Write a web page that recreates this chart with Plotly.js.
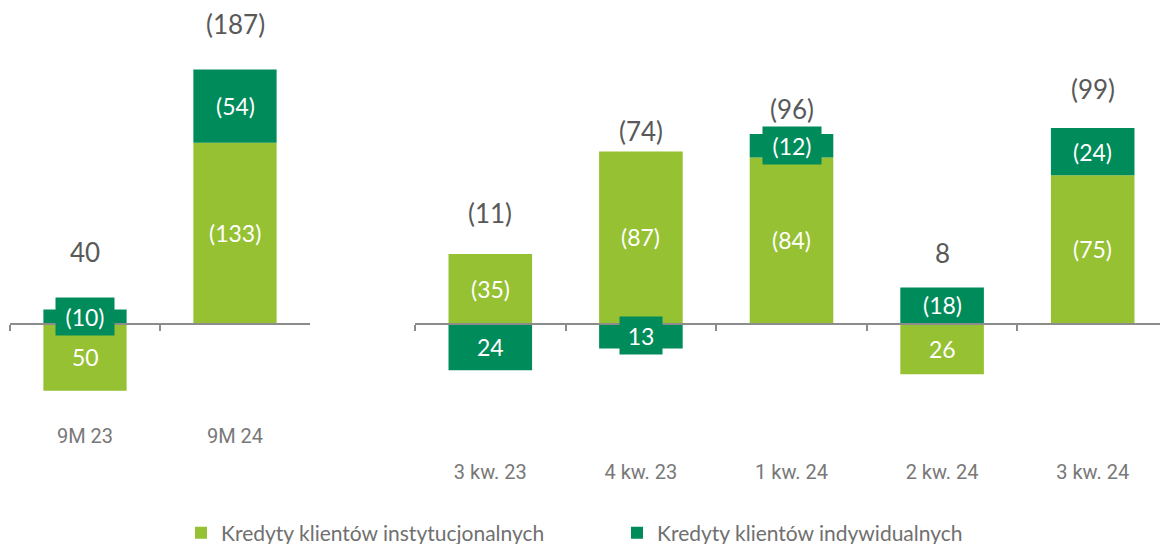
<!DOCTYPE html>
<html>
<head>
<meta charset="utf-8">
<script src="https://cdn.plot.ly/plotly-3.0.1.min.js"></script>
<style>
  html, body { margin: 0; padding: 0; background: #ffffff; }
  #chart { width: 1160px; height: 544px; }
</style>
</head>
<body>
<div id="chart"></div>
<script>
// Change in loan volumes (PLN m) split by client type.
// Positive values are drawn below the axis, negative ones (shown in brackets) above it.
const periodsYear = ['9M 23', '9M 24'];
const instYear = [50, -133];
const indivYear = [-10, -54];

const periodsQuarter = ['3 kw. 23', '4 kw. 23', '1 kw. 24', '2 kw. 24', '3 kw. 24'];
const instQuarter = [-35, -87, -84, 26, -75];
const indivQuarter = [24, 13, -12, -18, -24];

const seriesNames = ['Kredyty klientów instytucjonalnych', 'Kredyty klientów indywidualnych'];

// ---- styling ----
const W = 1160, H = 544;
const ZERO_PX = 323;                 // vertical pixel of the zero line
const SCALE_YEAR = 1.355;            // px per unit, year-to-date panel
const SCALE_QUARTER = 1.97;          // px per unit, quarterly panel
const CAT_STEP_QUARTER = 150.6;      // px per category, quarterly panel
const totalLiftYear = [57, 46];      // px gap between stack top and total label
const totalLiftQuarter = [41, 21, 25, 35, 39];

const LIGHT = '#95c133';
const DARK = '#008b5a';
const AXIS = '#8c8c8c';
const LABEL_FONT = 'Lato, "Open Sans", sans-serif';
const TICK_FONT = 'Roboto, "Open Sans", sans-serif';

const fmt = v => (v < 0 ? '(' + Math.abs(v) + ')' : String(v));

function yRange(scale) {
  // reversed axis: negative values go up
  return [(H - ZERO_PX) / scale, -ZERO_PX / scale];
}

function barTrace(x, y, color, name, xa, ya, showLegend) {
  return {
    type: 'bar', x: x, y: y, name: name, xaxis: xa, yaxis: ya,
    marker: { color: color, line: { width: 0 } },
    legendgroup: name, showlegend: showLegend,
    hoverinfo: 'skip'
  };
}

const traces = [
  barTrace(periodsYear, instYear, LIGHT, seriesNames[0], 'x', 'y', true),
  barTrace(periodsYear, indivYear, DARK, seriesNames[1], 'x', 'y', true),
  barTrace(periodsQuarter, instQuarter, LIGHT, seriesNames[0], 'x2', 'y2', false),
  barTrace(periodsQuarter, indivQuarter, DARK, seriesNames[1], 'x2', 'y2', false)
];

const annotations = [];

function addLabels(cats, inst, indiv, scale, lift, xa, ya) {
  cats.forEach((c, i) => {
    let pos = 0, neg = 0;
    [[inst[i], LIGHT], [indiv[i], DARK]].forEach(([v, segColor]) => {
      let base;
      if (v >= 0) { base = pos; pos += v; } else { base = neg; neg += v; }
      const center = base + v / 2;
      const txt = fmt(v);
      const small = Math.abs(v) * scale < 30;
      const a = {
        xref: xa, yref: ya, x: c, y: center, text: txt, showarrow: false,
        font: { family: LABEL_FONT, size: 23, color: '#ffffff' },
        xanchor: 'center', yanchor: 'middle'
      };
      if (small) {
        // label wider than its thin segment: give it a tab in the segment colour
        a.bgcolor = segColor;
        a.borderpad = 0;
        a.width = 26 + 8 * txt.length;
        a.height = 37;
      }
      annotations.push(a);
    });
    const total = inst[i] + indiv[i];
    annotations.push({
      xref: xa, yref: ya, x: c, y: neg, yshift: lift[i], text: fmt(total), showarrow: false,
      font: { family: LABEL_FONT, size: 26, color: '#595959' },
      xanchor: 'center', yanchor: 'middle'
    });
  });
}

addLabels(periodsYear, instYear, indivYear, SCALE_YEAR, totalLiftYear, 'x', 'y');
addLabels(periodsQuarter, instQuarter, indivQuarter, SCALE_QUARTER, totalLiftQuarter, 'x2', 'y2');

const axisLinePos = 1 - (ZERO_PX + 0.5) / H;
const baseX = {
  type: 'category', anchor: 'free', position: axisLinePos,
  showline: true, linecolor: AXIS, linewidth: 2,
  ticks: 'outside', tickson: 'boundaries', ticklen: 6, tickwidth: 2, tickcolor: AXIS,
  showticklabels: true, tickfont: { family: TICK_FONT, size: 20, color: '#787878' },
  showgrid: false, zeroline: false, fixedrange: true, automargin: false
};

const yearDomain = [10 / W, 310 / W];
const quarterDomain = [415 / W, 1];
const yearRange = [-0.5, periodsYear.length - 0.5];
const quarterRange = [-0.5, -0.5 + (quarterDomain[1] - quarterDomain[0]) * W / CAT_STEP_QUARTER];

const layout = {
  width: W, height: H,
  margin: { l: 0, r: 0, t: 0, b: 0, pad: 0, autoexpand: false },
  paper_bgcolor: '#ffffff', plot_bgcolor: 'rgba(0,0,0,0)',
  barmode: 'relative', bargap: 0.445,
  xaxis: Object.assign({}, baseX, { domain: yearDomain, range: yearRange, ticklabelstandoff: 94 }),
  yaxis: { domain: [0, 1], range: yRange(SCALE_YEAR), visible: false, fixedrange: true },
  xaxis2: Object.assign({}, baseX, { domain: quarterDomain, range: quarterRange, ticklabelstandoff: 130 }),
  yaxis2: { domain: [0, 1], range: yRange(SCALE_QUARTER), visible: false, fixedrange: true },
  showlegend: true,
  legend: {
    orientation: 'h', x: 181 / W, xanchor: 'left', y: 1 - 533 / H, yanchor: 'middle',
    font: { family: LABEL_FONT, size: 21, color: '#707070' },
    entrywidth: 391, entrywidthmode: 'pixels', traceorder: 'normal',
    bgcolor: 'rgba(0,0,0,0)'
  },
  annotations: annotations
};

Plotly.newPlot('chart', traces, layout, { displayModeBar: false, staticPlot: true });
</script>
</body>
</html>
